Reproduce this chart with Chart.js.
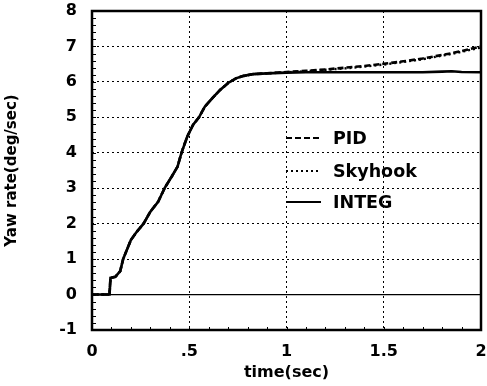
<!DOCTYPE html>
<html>
<head>
<meta charset="utf-8">
<script src="https://cdn.jsdelivr.net/npm/chart.js@4/dist/chart.umd.min.js"></script>
<style>
  html, body { margin: 0; padding: 0; background: #fff; }
  #wrap { width: 487px; height: 386px; }
</style>
</head>
<body>
<div id="wrap"><canvas id="yawChart" width="487" height="386"></canvas></div>
<script>
// yaw rate response, three controllers
const timeSec = [0, 0.09, 0.095, 0.12, 0.145, 0.16, 0.2, 0.23, 0.265, 0.3, 0.34, 0.375, 0.41, 0.44, 0.46, 0.49, 0.52, 0.55, 0.58, 0.62, 0.66, 0.7, 0.74, 0.78, 0.83, 0.9, 1.0, 1.1, 1.2, 1.3, 1.4, 1.5, 1.6, 1.7, 1.8, 1.85, 1.9, 2.0];
const rise = [0, 0, 0.47, 0.5, 0.66, 1.0, 1.54, 1.77, 2.0, 2.34, 2.62, 3.02, 3.33, 3.61, 4.0, 4.46, 4.79, 5.0, 5.3, 5.55, 5.78, 5.97, 6.1, 6.17, 6.22, 6.24];
const integTail = [6.26, 6.27, 6.27, 6.27, 6.27, 6.27, 6.27, 6.27, 6.29, 6.3, 6.28, 6.27];
const pidTail = [6.28, 6.31, 6.35, 6.4, 6.45, 6.51, 6.58, 6.66, 6.76, 6.81, 6.87, 7.0];
const skyhookTail = [6.27, 6.3, 6.34, 6.38, 6.43, 6.49, 6.56, 6.64, 6.74, 6.79, 6.85, 6.97];

const seriesNames = ['PID', 'Skyhook', 'INTEG'];
const xTicks = [0, 0.5, 1, 1.5, 2];
const xTickText = ['0', '.5', '1', '1.5', '2'];

const FONT = 'DejaVu Sans';

function pts(tail) {
  return rise.concat(tail).map((v, i) => ({ x: timeSec[i], y: v }));
}

// frame, zero line, inside minor ticks and legend
const decor = {
  id: 'decor',
  afterDatasetsDraw(chart) {
    const { ctx, chartArea: a, scales: { x, y } } = chart;
    ctx.save();
    ctx.strokeStyle = '#000';
    ctx.setLineDash([]);

    // zero line
    ctx.lineWidth = 1.3;
    ctx.beginPath();
    ctx.moveTo(a.left, y.getPixelForValue(0));
    ctx.lineTo(a.right, y.getPixelForValue(0));
    ctx.stroke();

    // minor ticks
    ctx.lineWidth = 1;
    ctx.beginPath();
    for (let v = -1; v <= 8.001; v += 0.2) {
      const py = Math.round(y.getPixelForValue(v)) + 0.5;
      ctx.moveTo(a.left, py);
      ctx.lineTo(a.left + 4, py);
    }
    for (let t = 0; t <= 2.001; t += 0.1) {
      const px = Math.round(x.getPixelForValue(t)) + 0.5;
      ctx.moveTo(px, a.bottom);
      ctx.lineTo(px, a.bottom - 3);
    }
    ctx.stroke();

    // frame
    ctx.lineWidth = 2.5;
    ctx.strokeRect(a.left, a.top, a.right - a.left, a.bottom - a.top);

    // legend
    const rows = [138, 171, 202];
    ctx.font = 'bold 17.5px "' + FONT + '"';
    ctx.fillStyle = '#000';
    ctx.textBaseline = 'middle';
    chart.data.datasets.forEach((ds, i) => {
      const ry = rows[i];
      ctx.lineWidth = Math.min(ds.borderWidth, 2);
      ctx.setLineDash(ds.borderDash || []);
      ctx.beginPath();
      ctx.moveTo(286, ry);
      ctx.lineTo(321, ry);
      ctx.stroke();
      ctx.setLineDash([]);
      ctx.fillText(ds.label, 333, ry + 1);
    });
    ctx.restore();
  }
};

new Chart(document.getElementById('yawChart'), {
  type: 'line',
  data: {
    datasets: [
      { label: seriesNames[0], data: pts(pidTail), borderColor: '#000', borderWidth: 2.6, borderDash: [6, 3], pointRadius: 0, tension: 0 },
      { label: seriesNames[1], data: pts(skyhookTail), borderColor: '#000', borderWidth: 2.4, borderDash: [2, 3], pointRadius: 0, tension: 0 },
      { label: seriesNames[2], data: pts(integTail), borderColor: '#000', borderWidth: 2.6, pointRadius: 0, tension: 0 }
    ]
  },
  plugins: [decor],
  options: {
    responsive: false,
    animation: false,
    layout: { padding: { top: 11, right: 6, left: 0, bottom: 0 } },
    plugins: { legend: { display: false }, tooltip: { enabled: false } },
    scales: {
      x: {
        type: 'linear',
        min: 0,
        max: 2,
        afterBuildTicks: s => { s.ticks = xTicks.map(v => ({ value: v })); },
        afterFit: s => { s.height = 56; s.paddingLeft = 0; s.paddingRight = 0; },
        ticks: {
          callback: (v) => xTickText[xTicks.indexOf(v)],
          color: '#000',
          font: { family: FONT, size: 16, weight: 'bold' },
          padding: 12,
          maxRotation: 0
        },
        grid: { color: '#000', lineWidth: 1, drawTicks: false },
        border: { display: false, dash: [2, 3] },
        title: {
          display: true,
          text: 'time(sec)',
          color: '#000',
          font: { family: FONT, size: 16, weight: 'bold' },
          padding: { top: 0, bottom: 4 }
        }
      },
      y: {
        min: -1,
        max: 8,
        afterFit: s => { s.width = 92; s.paddingTop = 0; s.paddingBottom = 0; },
        ticks: {
          stepSize: 1,
          color: '#000',
          font: { family: FONT, size: 16, weight: 'bold' },
          padding: 15
        },
        grid: { color: '#000', lineWidth: 1, drawTicks: false },
        border: { display: false, dash: [2, 3] },
        title: {
          display: true,
          text: 'Yaw rate(deg/sec)',
          color: '#000',
          font: { family: FONT, size: 15, weight: 'bold' },
          padding: { top: 3, bottom: 0 }
        }
      }
    }
  }
});
</script>
</body>
</html>
